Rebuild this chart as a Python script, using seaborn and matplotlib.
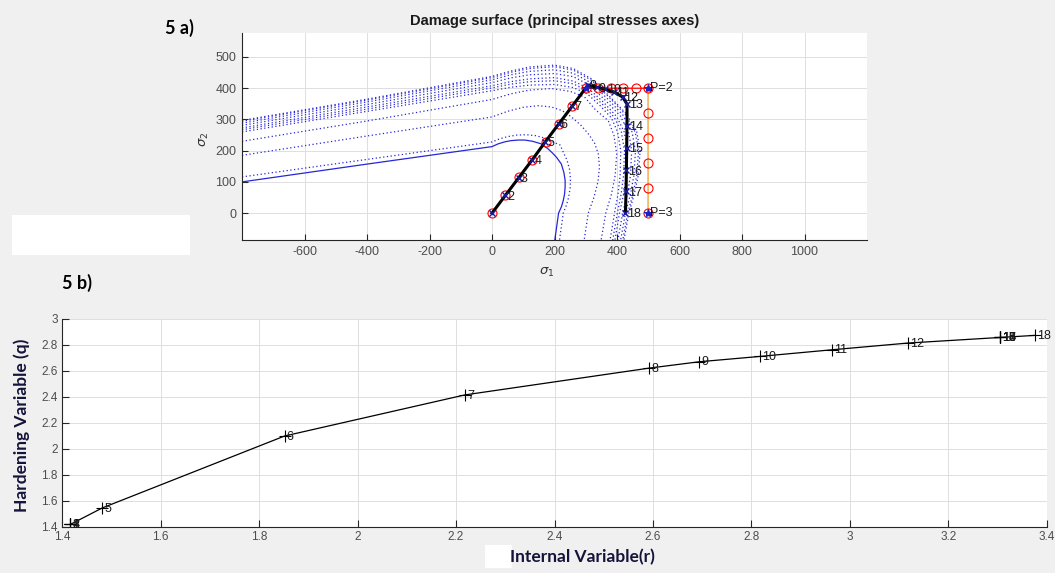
import numpy as np
import pandas as pd
import seaborn as sns
import matplotlib.pyplot as plt
from matplotlib.patches import Rectangle
from matplotlib.ticker import FuncFormatter

# ---------------- 5 a) damage surfaces ----------------
# each surface is read as a half curve, from sigma1 = -800 up to the
# sigma1 = sigma2 line; the other half is its mirror image about that line
surf_init_s1 = [-800, -400, 0, 20, 40, 60, 83, 105, 130, 157, 178, 193]
surf_init_s2 = [100, 157, 213, 222, 228, 232, 234, 234, 230, 222, 207, 193]

surf5_s1 = [-800, -400, 0, 25, 50, 80, 110, 140, 170, 195, 218]
surf5_s2 = [116, 172, 228, 238, 245, 250, 251, 248, 240, 228, 218]

surf6_s1 = [-800, -400, 0, 50, 100, 147, 190, 225, 253, 283]
surf6_s2 = [185, 247, 308, 326, 339, 344, 340, 328, 309, 283]

surf7_s1 = [-800, -400, 0, 60, 120, 190, 250, 296, 331]
surf7_s2 = [230, 295, 364, 382, 394, 399, 390, 372, 331]

surf8_s1 = [-800, -400, 0, 60, 120, 200, 260, 305, 345]
surf8_s2 = [260, 326, 392, 403, 410, 412, 402, 382, 345]

surf9_s1 = [-800, -400, 0, 60, 120, 200, 260, 307, 351]
surf9_s2 = [267, 333, 401, 413, 421, 424, 414, 391, 351]

surf10_s1 = [-800, -400, 0, 60, 120, 200, 260, 309, 356]
surf10_s2 = [273, 340, 408, 421, 430, 434, 423, 399, 356]

surf11_s1 = [-800, -400, 0, 60, 120, 200, 260, 312, 362]
surf11_s2 = [281, 348, 418, 433, 443, 447, 437, 410, 362]

surf12_s1 = [-800, -400, 0, 60, 120, 200, 260, 314, 368]
surf12_s2 = [288, 356, 427, 443, 454, 459, 448, 419, 368]

surf13_s1 = [-800, -400, 0, 60, 120, 200, 260, 316, 373]
surf13_s2 = [294, 362, 434, 451, 463, 469, 458, 427, 373]

surf18_s1 = [-800, -400, 0, 60, 120, 200, 260, 317, 375]
surf18_s2 = [297, 365, 438, 455, 468, 474, 463, 431, 375]

# imposed path (one point per step) and its vertices
path_s1 = [0, 42.9, 85.7, 128.6, 171.4, 214.3, 257.1, 300,
           340, 380, 420, 460, 500, 500, 500, 500, 500, 500]
path_s2 = [0, 57.1, 114.3, 171.4, 228.6, 285.7, 342.9, 400,
           400, 400, 400, 400, 400, 320, 240, 160, 80, 0]
vert_s1 = [300, 500, 500]
vert_s2 = [400, 400, 0]
vert_labels = ['', 'P=2', 'P=3']

# computed stress per step
resp_s1 = [0, 43, 86, 129, 171, 214, 257, 307, 335, 362, 390, 418,
           432, 432, 431, 430, 429, 427]
resp_s2 = [0, 57, 114, 171, 229, 286, 343, 410, 403, 397, 388, 372,
           349, 279, 209, 137, 70, 0]
step_labels = [str(i) for i in range(1, 19)]

# ---------------- 5 b) hardening ----------------
r_vals = [1.417, 1.417, 1.417, 1.417, 1.482, 1.852, 2.218, 2.592, 2.694,
          2.817, 2.963, 3.118, 3.305, 3.305, 3.305, 3.305, 3.305, 3.376]
q_vals = [1.42, 1.42, 1.42, 1.42, 1.547, 2.10, 2.416, 2.622, 2.671,
          2.712, 2.763, 2.815, 2.858, 2.858, 2.858, 2.858, 2.858, 2.874]


def full_curve(s1, s2):
    # add the mirrored half (swap sigma1/sigma2), walking back down
    x = list(s1) + list(s2[::-1])
    y = list(s2) + list(s1[::-1])
    return x, y


fig = plt.figure(figsize=(10.55, 5.73), dpi=100, facecolor='#f0f0f0')
plt.rcParams['font.family'] = ['Liberation Sans', 'DejaVu Sans']
plt.rcParams['axes.unicode_minus'] = False

tick_col = '#4d4d4d'
blue = (0.15, 0.15, 0.85)

# ---------- top panel ----------
ax = fig.add_axes([0.2294, 0.5812, 0.5924, 0.3613])
ax.set_facecolor('white')

x, y = full_curve(surf_init_s1, surf_init_s2)
sns.lineplot(x=x, y=y, sort=False, estimator=None, color=blue, lw=0.9, ax=ax)

dotted = [(surf5_s1, surf5_s2), (surf6_s1, surf6_s2), (surf7_s1, surf7_s2),
          (surf8_s1, surf8_s2), (surf9_s1, surf9_s2), (surf10_s1, surf10_s2),
          (surf11_s1, surf11_s2), (surf12_s1, surf12_s2),
          (surf13_s1, surf13_s2), (surf18_s1, surf18_s2)]
for s1, s2 in dotted:
    x, y = full_curve(s1, s2)
    sns.lineplot(x=x, y=y, sort=False, estimator=None, color=blue, lw=0.9,
                 linestyle=(0, (1, 2)), ax=ax)

# imposed path
sns.lineplot(x=path_s1, y=path_s2, sort=False, estimator=None, color='red',
             lw=0.9, ax=ax)
sns.lineplot(x=path_s1[12:], y=path_s2[12:], sort=False, estimator=None,
             color='#f2cf7a', lw=1.3, ax=ax)
sns.lineplot(x=path_s1, y=path_s2, sort=False, estimator=None, lw=0,
             marker='o', markersize=6.5, markerfacecolor='none',
             markeredgecolor='red', markeredgewidth=0.8, ax=ax)

# computed response
sns.lineplot(x=resp_s1, y=resp_s2, sort=False, estimator=None, color='black',
             lw=2.2, ax=ax)
sns.lineplot(x=resp_s1, y=resp_s2, sort=False, estimator=None, lw=0,
             marker='x', markersize=5, markeredgecolor='#1a1a9a',
             markeredgewidth=1, ax=ax)
sns.lineplot(x=vert_s1, y=vert_s2, sort=False, estimator=None, lw=0,
             marker='*', markersize=6, markeredgecolor='#2020c0',
             markerfacecolor='#2020c0', ax=ax)

for sx, sy, lab in zip(resp_s1[1:], resp_s2[1:], step_labels[1:]):
    ax.text(sx + 6, sy - 4, lab, ha='left', va='center', fontsize=9,
            color='#1a1a1a')
for sx, sy, lab in zip(vert_s1, vert_s2, vert_labels):
    ax.text(sx + 4, sy, lab, ha='left', va='center', fontsize=9,
            color='#1a1a1a')

ax.set_xlim(-800, 1200)
ax.set_ylim(-86, 577)
ax.set_xticks(np.arange(-600, 1001, 200))
ax.set_yticks(np.arange(0, 501, 100))
ax.set_xlabel('')
ax.set_ylabel('')
ax.grid(True, color='#dedede', lw=0.7)
ax.set_axisbelow(True)
for side in ['top', 'right']:
    ax.spines[side].set_visible(False)
for side in ['left', 'bottom']:
    ax.spines[side].set_color('#262626')
    ax.spines[side].set_linewidth(0.8)
ax.tick_params(direction='in', length=4, width=0.8, color='#262626',
               labelcolor=tick_col, labelsize=9, pad=4)
ax.set_title('Damage surface (principal stresses axes)', fontsize=10.5,
             fontweight='bold', color='#1a1a1a', pad=6)

fig.text(0.194, 0.756, r'$\sigma_2$', rotation=90, ha='center',
         va='center', fontsize=9.5, color='#333333')
fig.text(0.518, 0.525, r'$\sigma_1$', ha='center', va='center',
         fontsize=9.5, color='#333333')

# ---------- bottom panel ----------
bx = fig.add_axes([0.0588, 0.0803, 0.9336, 0.363])
bx.set_facecolor('white')
sns.lineplot(x=r_vals, y=q_vals, sort=False, estimator=None, color='black',
             lw=0.9, marker='+', markersize=9, markeredgecolor='black',
             markeredgewidth=0.8, ax=bx)
for rx, qy, lab in zip(r_vals, q_vals, step_labels):
    bx.text(rx + 0.004, qy - 0.005, lab, ha='left', va='center',
            fontsize=9, color='#1a1a1a')

bx.set_xlim(1.4, 3.4)
bx.set_ylim(1.4, 3.0)
bx.set_xticks(np.arange(1.4, 3.41, 0.2))
bx.set_yticks(np.arange(1.4, 3.01, 0.2))
fmt = FuncFormatter(lambda v, p: '%g' % round(v, 1))
bx.xaxis.set_major_formatter(fmt)
bx.yaxis.set_major_formatter(fmt)
bx.set_xlabel('')
bx.set_ylabel('')
bx.grid(True, color='#dedede', lw=0.7)
bx.set_axisbelow(True)
for side in ['top', 'right']:
    bx.spines[side].set_visible(False)
for side in ['left', 'bottom']:
    bx.spines[side].set_color('#262626')
    bx.spines[side].set_linewidth(0.8)
bx.tick_params(direction='in', length=5, width=0.8, color='#262626',
               labelcolor=tick_col, labelsize=8.5, pad=3)

fig.text(0.0209, 0.258, 'Hardening Variable (q)', rotation=90, ha='center',
         va='center', fontsize=12.5, fontweight='bold', family=['Lato'],
         color='#14143a')
fig.text(0.552, 0.028, 'Internal Variable(r)', ha='center', va='center',
         fontsize=12.5, fontweight='bold', family=['Lato'], color='#14143a')

fig.text(0.156, 0.951, '5 a)', ha='left', va='center', fontsize=13,
         fontweight='bold', family=['Lato'], color='black')
fig.text(0.0588, 0.506, '5 b)', ha='left', va='center', fontsize=13,
         fontweight='bold', family=['Lato'], color='black')

# white patches present in the original figure
fig.patches.append(Rectangle((0.0114, 0.555), 0.1687, 0.0698,
                             transform=fig.transFigure, facecolor='white',
                             edgecolor='none'))
fig.patches.append(Rectangle((0.4597, 0.0087), 0.0256, 0.040,
                             transform=fig.transFigure, facecolor='white',
                             edgecolor='none'))

fig.savefig('out.png', dpi=100, facecolor=fig.get_facecolor())
